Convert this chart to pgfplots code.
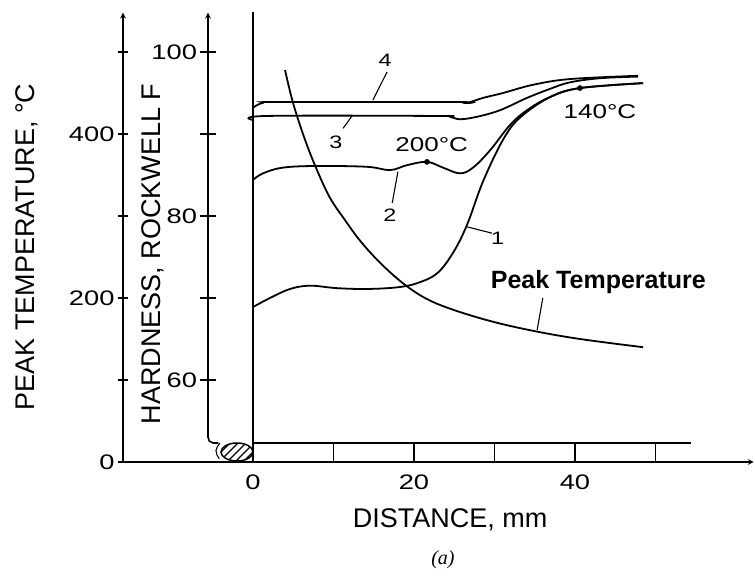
\documentclass[border=0pt]{standalone}
\usepackage{fontspec}
\setmainfont{Liberation Sans}
\newfontfamily\numfont{Liberation Sans}[FakeStretch=1.3]
\newfontfamily\serifit{Liberation Serif}
\usepackage{pgfplots}
\pgfplotsset{compat=1.18}
\usetikzlibrary{arrows.meta}

\begin{document}
\begin{tikzpicture}
\useasboundingbox (-123bp,-117bp) rectangle (632bp,462bp);
\tikzset{
  lead/.style={line width=1.1bp},
  lab/.style={font=\numfont\fontsize{18bp}{20bp}\selectfont, inner sep=0pt},
}
\pgfplotsset{
  every axis/.append style={scale only axis, clip=false,
    axis line style={line width=1.6bp, -{Stealth[length=11bp,width=7bp]}},
    tick style={line width=1.4bp, black},
    tick align=inside,
    /pgf/number format/assume math mode=true,
    xticklabel={\numfont\fontsize{21bp}{24bp}\selectfont\pgfmathprintnumber{\tick}},
    yticklabel={\numfont\fontsize{21bp}{24bp}\selectfont\pgfmathprintnumber{\tick}},
  },
  curve/.style={black, line width=1.8bp, smooth, tension=0.6, no marks},
}

% peak temperature scale, distance scale
\begin{axis}[name=T, anchor=south west, at={(0,0)},
  width=630.7bp, height=449.36bp,
  xmin=-16.15, xmax=62.2, ymin=0, ymax=548,
  axis x line=bottom, axis y line=left,
  xtick={0,20,40}, xtick style={draw=none},
  ytick={0,200,400}, minor ytick={100,300,500},
  major tick length=10bp, minor tick length=10bp,
  xticklabel style={yshift=-4bp},
]
\addplot[curve] coordinates {
  (3.98,478) (4.97,438) (6.46,393) (7.95,356) (9.57,322) (11.43,295)
  (13.29,270) (15.78,243) (18.63,218) (21.37,200) (24.47,187)
  (29.44,172) (34.78,160) (40.62,150) (48.45,140)
};
% specimen outline
\draw[line width=1.6bp] (axis cs:0,548.5) -- (axis cs:0,0);
\draw[line width=1.3bp] (axis cs:0,23.2) -- (axis cs:54.4,23.2);
\pgfplotsinvokeforeach{10,20,30,40,50}{
  \draw[line width=1.3bp] (axis cs:#1,0) -- (axis cs:#1,23.2);
}
\coordinate (bead) at (axis cs:-1.99,12.2);
\node[font=\fontsize{27bp}{30bp}\selectfont] at (axis cs:24.5,-70.7) {DISTANCE, mm};
\node[font=\serifit\itshape\fontsize{20bp}{22bp}\selectfont] at (axis cs:23.6,-119.5) {(a)};
\node[rotate=90, font=\fontsize{27bp}{30bp}\selectfont] at (axis cs:-28.07,262.2) {PEAK TEMPERATURE, °C};
\node[rotate=90, font=\fontsize{27bp}{30bp}\selectfont] at (axis cs:-12.42,253.7) {HARDNESS, ROCKWELL F};
\end{axis}

% hardness scale
\begin{axis}[name=H, anchor=south west, at={(85bp,24.6bp)},
  width=545.7bp, height=424.76bp,
  xmin=-5.59, xmax=62.2, ymin=53, ymax=104.8,
  axis x line=none, axis y line=left,
  ytick={60,80,100}, minor ytick={70,90},
  major tick length=15bp, minor tick length=15bp,
]
% curve 1
\addplot[curve] coordinates {
  (0,68.9) (2.11,70.0) (4.6,71.1) (7.08,71.5) (10.43,71.2) (14.16,71.1)
  (17.89,71.3) (20.37,71.8) (22.86,73.0) (24.84,75.5) (26.58,78.9)
  (28.57,84.2) (31.06,89.3) (33.17,92.0) (36.89,94.5) (40.62,95.6) (48.45,96.2)
};
% curve 2
\addplot[curve] coordinates {
  (0,84.4) (1.24,85.2) (3.73,85.9) (7.95,86.1) (14.16,86.0) (17.02,85.6)
  (19.13,86.2) (21.61,86.6) (23.6,85.9) (25.71,85.2) (27.33,85.9)
  (29.44,88.0) (31.93,91.1) (34.04,92.9) (36.89,94.5) (40.62,95.6) (48.45,96.2)
};
% curve 3
\addplot[curve] coordinates {
  (0,91.7) (1.74,92.2) (22.86,92.2) (24.47,92.1) (25.71,91.8) (27.83,92.1)
  (30.68,92.9) (34.04,94.4) (36.89,95.5) (39.38,96.3) (43.1,96.8) (47.83,97.0)
};
% curve 4
\addplot[curve] coordinates {
  (0,93.2) (1.24,93.8) (3.73,93.9) (25.34,93.9) (26.58,93.8) (28.57,94.4)
  (31.06,95.0) (34.78,96.0) (39.38,96.7) (47.83,97.1)
};
\addplot[only marks, mark=*, mark size=2.6bp, black] coordinates {(21.61,86.6) (40.62,95.6)};

\draw[line width=1.6bp] (axis cs:-5.59,53.05) to[out=-90,in=180] (axis cs:-4.97,52.32)
  -- (axis cs:-4.3,52.32);
\draw[line width=1.1bp] (axis cs:-4.1,52.3) to[out=-120,in=90] (axis cs:-4.6,51.4)
  to[out=-90,in=120] (axis cs:-4.2,50.4);

\node[lab] at (axis cs:16.4,99.0) {4};
\draw[lead] (axis cs:16.65,97.56) -- (axis cs:14.9,94.15);
\node[lab] at (axis cs:10.3,89.0) {3};
\draw[lead] (axis cs:11.2,90.7) -- (axis cs:12.3,92.2);
\node[lab] at (axis cs:17.0,80.1) {2};
\draw[lead] (axis cs:17.3,81.6) -- (axis cs:18.0,85.4);
\node[lab] at (axis cs:30.4,77.3) {1};
\draw[lead] (axis cs:29.7,77.9) -- (axis cs:26.5,78.7);
\node[font=\numfont\fontsize{20bp}{22bp}\selectfont] at (axis cs:22.2,88.65) {200°C};
\node[font=\numfont\fontsize{20bp}{22bp}\selectfont] at (axis cs:43.1,92.7) {140°C};
\node[font=\bfseries\fontsize{25bp}{28bp}\selectfont] at (axis cs:42.9,71.95) {Peak Temperature};
\draw[lead] (axis cs:36.0,70.0) -- (axis cs:35.3,66.1);
\end{axis}

% weld bead
\draw[line width=1.5bp] (bead) ellipse [x radius=16bp, y radius=9bp];
\begin{scope}
  \clip (bead) ellipse [x radius=16bp, y radius=9bp];
  \foreach \s in {-24,-16,-8,0,8,16,24}
    \draw[line width=1.2bp] ([xshift=\s bp-12bp, yshift=-12bp]bead) -- ++(24bp,24bp);
\end{scope}
\end{tikzpicture}
\end{document}
